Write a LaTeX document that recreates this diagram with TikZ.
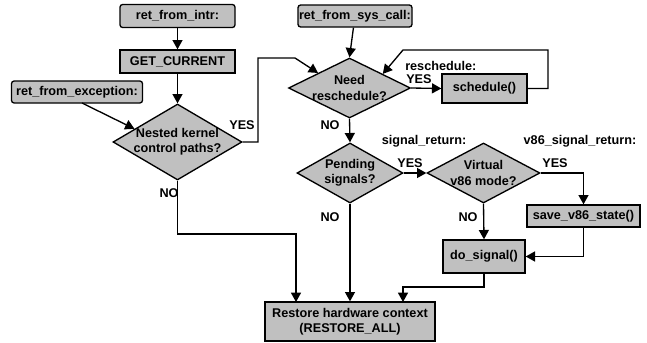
\documentclass[tikz,border=0pt]{standalone}
\usepackage{fontspec}
\setmainfont{Liberation Sans}
\usetikzlibrary{arrows.meta,shapes.geometric,calc}
\newlength\pxu
\setlength\pxu{0.75pt}
\definecolor{boxgray}{RGB}{192,192,192}
\tikzset{
  base/.style={draw=black, line width=1pt, fill=boxgray, inner sep=0pt, font=\bfseries\fontsize{9.5}{11.4}\selectfont, align=center},
  entry/.style={base, rounded corners=2pt},
  proc/.style={base},
  dia/.style={base, shape=diamond, inner sep=0pt},
  lbl/.style={font=\bfseries\fontsize{9.5}{11.4}\selectfont, inner sep=0pt},
  conn/.style={line width=1pt, -{Triangle[length=7pt,width=7.5pt]}},
  plain/.style={line width=1pt},
}
\begin{document}
\begin{tikzpicture}[x=0.75pt,y=-0.75pt]
\useasboundingbox (0,0) rectangle (647,343);
% entry boxes
\node[entry, minimum width=115\pxu, minimum height=23\pxu] (intr) at (177.5,16) {ret\_from\_intr:};
\node[proc, minimum width=115\pxu, minimum height=23\pxu] (getc) at (177.5,61.5) {GET\_CURRENT};
\node[entry, minimum width=131\pxu, minimum height=22\pxu] (exc) at (77,92) {ret\_from\_exception:};
\node[dia, minimum width=129\pxu, minimum height=76\pxu, label={[lbl, align=center]center:Nested kernel\\control paths?}] (nest) at (177.5,142) {};
\node[entry, minimum width=114\pxu, minimum height=22\pxu] (sys) at (355,16) {ret\_from\_sys\_call:};
\node[dia, minimum width=122\pxu, minimum height=60\pxu, label={[lbl, align=center]center:Need\\reschedule?}] (need) at (349.5,88) {};
\node[proc, minimum width=85\pxu, minimum height=29\pxu] (sched) at (484.5,88.5) {schedule()};
\node[dia, minimum width=106\pxu, minimum height=60\pxu, label={[lbl, align=center]center:Pending\\signals?}] (pend) at (350,173) {};
\node[dia, minimum width=113\pxu, minimum height=60\pxu, label={[lbl, align=center]center:Virtual\\v86 mode?}] (virt) at (483.5,173) {};
\node[proc, minimum width=113\pxu, minimum height=22\pxu] (save) at (583.5,216) {save\_v86\_state()};
\node[proc, minimum width=82\pxu, minimum height=33\pxu] (dosig) at (484,256.5) {do\_signal()};
\node[proc, minimum width=170\pxu, minimum height=39\pxu] (restore) at (350,321.5) {Restore hardware context\\(RESTORE\_ALL)};
% labels
\node[lbl] (l1) at (242,125) {YES};
\node[lbl] (l2) at (169,193) {NO};
\node[lbl, anchor=west] (l3) at (405,66) {reschedule:};
\node[lbl, anchor=west] (l4) at (406,79) {YES};
\node[lbl] (l5) at (330,125) {NO};
\node[lbl] (l6) at (424,141) {signal\_return:};
\node[lbl] (l7) at (580,141) {v86\_signal\_return:};
\node[lbl] (l8) at (410,163) {YES};
\node[lbl] (l9) at (555,163) {YES};
\node[lbl] (l10) at (330,217) {NO};
\node[lbl] (l11) at (468,217) {NO};
% helper coordinates
\coordinate (c1) at (258,142);
\coordinate (c2) at (258,58);
\coordinate (c3) at (295,58);
\coordinate (d1) at (548,88.5);
\coordinate (d2) at (548,50);
\coordinate (d3) at (403,50);
\coordinate (e1) at (177.5,234);
\coordinate (e2) at (296,234);
\coordinate (r1) at (296,302);
\coordinate (r3) at (403,302);
\coordinate (f1) at (484,287);
\coordinate (f2) at (403,287);
% connectors
\draw[conn] (intr) -- (getc);
\draw[conn] (getc) -- (nest.north);
\draw[conn] (82,103) -- ($(nest.west)!0.34!(nest.north)$);
\draw[conn] (nest.east) -- (c1) -- (c2) -- (c3) -- ($(need.west)!0.49!(need.north)$);
\draw[conn] (sys) -- (need.north);
\draw[conn] (need.east) -- (sched.west);
\draw[conn] (sched.east) -- (d1) -- (d2) -- (d3) -- ($(need.north)!0.54!(need.east)$);
\draw[conn] (need.south) -- (pend.north);
\draw[conn] (pend.east) -- (virt.west);
\draw[conn] (virt.east) -| (save.north);
\draw[conn] (virt.south) -- (dosig.north);
\draw[conn] (save.south) |- (dosig.east);
\draw[conn] (dosig.south) -- (f1) -- (f2) -- (r3);
\draw[conn] (pend.south) -- (restore.north);
\draw[conn] (nest.south) -- (e1) -- (e2) -- (r1);
\end{tikzpicture}
\end{document}
